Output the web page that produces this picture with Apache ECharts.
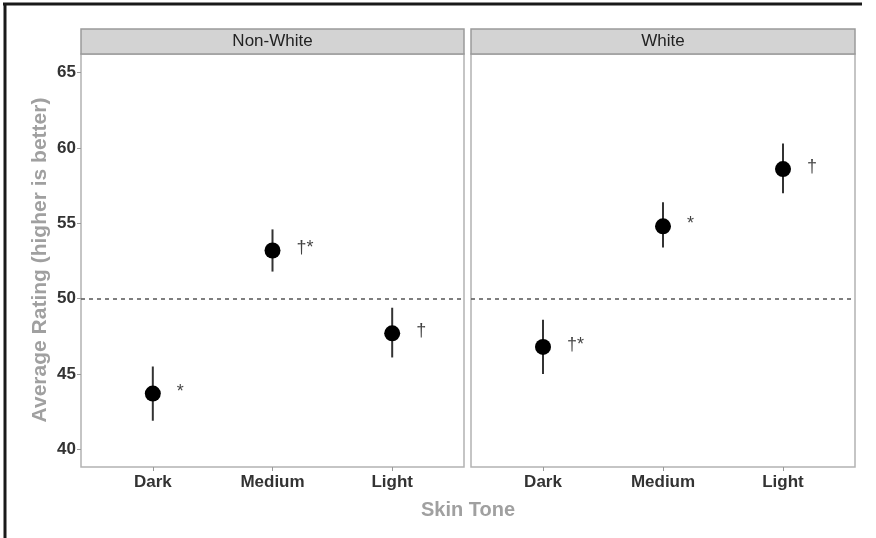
<!DOCTYPE html>
<html>
<head>
<meta charset="utf-8">
<script src="https://cdn.jsdelivr.net/npm/echarts@6/dist/echarts.min.js"></script>
<style>
html, body { margin: 0; padding: 0; background: #fff; }
#container { width: 876px; height: 538px; }
</style>
</head>
<body>
<div id="container"></div>
<script>
var categories = ['Dark', 'Medium', 'Light'];
var panels = ['Non-White', 'White'];
var nonWhiteMean = [43.7, 53.2, 47.7];
var nonWhiteLow = [41.9, 51.8, 46.1];
var nonWhiteHigh = [45.5, 54.6, 49.4];
var whiteMean = [46.8, 54.8, 58.6];
var whiteLow = [45.0, 53.4, 57.0];
var whiteHigh = [48.6, 56.4, 60.3];
var nonWhiteMarks = ['*', '\u2020*', '\u2020'];
var whiteMarks = ['\u2020*', '*', '\u2020'];
var yTicks = [40, 45, 50, 55, 60, 65];
var refLine = 50;

var FONT = '"Liberation Sans", Arial, sans-serif';
var dom = document.getElementById('container');
var myChart = echarts.init(dom, null, { renderer: 'canvas' });

var panelData = [
    { mean: nonWhiteMean, low: nonWhiteLow, high: nonWhiteHigh, marks: nonWhiteMarks },
    { mean: whiteMean, low: whiteLow, high: whiteHigh, marks: whiteMarks }
];

var grids = [
    { left: 81, top: 54, width: 383, height: 413 },
    { left: 471, top: 54, width: 384, height: 413 }
];

var xAxes = [];
var yAxes = [];
var series = [];
var graphics = [];

grids.forEach(function (g, i) {
    g.show = true;
    g.borderColor = '#b3b3b3';
    g.borderWidth = 1.5;
    g.backgroundColor = '#fff';

    xAxes.push({
        type: 'value',
        gridIndex: i,
        min: -0.6,
        max: 2.6,
        splitLine: { show: false },
        axisLine: { show: false, onZero: false },
        axisTick: { show: true, customValues: [0, 1, 2], length: 4, lineStyle: { color: '#999' } },
        axisLabel: {
            customValues: [0, 1, 2],
            margin: 7,
            fontFamily: FONT,
            fontSize: 17,
            fontWeight: 'bold',
            color: '#333',
            formatter: function (v) { return categories[Math.round(v)]; }
        }
    });

    yAxes.push({
        type: 'value',
        gridIndex: i,
        min: 38.83,
        max: 66.24,
        splitLine: { show: false },
        axisLine: { show: false, onZero: false },
        axisTick: { show: i === 0, customValues: yTicks, length: 4, lineStyle: { color: '#999' } },
        axisLabel: {
            show: i === 0,
            customValues: yTicks,
            margin: 5,
            fontFamily: FONT,
            fontSize: 17,
            fontWeight: 'bold',
            color: '#333'
        }
    });

    var d = panelData[i];
    var pts = [], bars = [], notes = [];
    categories.forEach(function (c, k) {
        pts.push([k, d.mean[k]]);
        bars.push([k, d.low[k], d.high[k]]);
        notes.push([k + 0.2, d.mean[k], d.marks[k]]);
    });

    series.push({
        type: 'custom',
        xAxisIndex: i,
        yAxisIndex: i,
        data: bars,
        encode: { x: 0, y: [1, 2] },
        renderItem: function (params, api) {
            var top = api.coord([api.value(0), api.value(2)]);
            var bot = api.coord([api.value(0), api.value(1)]);
            return {
                type: 'line',
                shape: { x1: top[0], y1: top[1], x2: bot[0], y2: bot[1] },
                style: { stroke: '#333', lineWidth: 2 }
            };
        },
        z: 2
    });

    series.push({
        type: 'scatter',
        xAxisIndex: i,
        yAxisIndex: i,
        data: pts,
        symbol: 'circle',
        symbolSize: 16,
        itemStyle: { color: '#000', opacity: 1 },
        markLine: {
            silent: true,
            symbol: 'none',
            label: { show: false },
            lineStyle: { color: '#555', type: [4, 4], width: 1.5 },
            data: [{ yAxis: refLine }]
        },
        z: 3
    });

    series.push({
        type: 'scatter',
        xAxisIndex: i,
        yAxisIndex: i,
        data: notes,
        symbolSize: 0,
        label: {
            show: true,
            position: 'right',
            distance: 0,
            offset: [0, -2],
            fontFamily: FONT,
            fontSize: 18,
            color: '#111',
            formatter: function (p) { return p.value[2]; }
        },
        z: 4
    });

    graphics.push({
        type: 'rect',
        shape: { x: g.left, y: 29, width: g.width, height: 25 },
        style: { fill: '#d3d3d3', stroke: '#9a9a9a', lineWidth: 1.5 },
        z: 10
    });
    graphics.push({
        type: 'text',
        x: g.left + g.width / 2,
        y: 41.5,
        style: {
            text: panels[i],
            fontFamily: FONT,
            fontSize: 17,
            fill: '#222',
            align: 'center',
            verticalAlign: 'middle'
        },
        z: 11
    });
});

// outer frame lines
graphics.push({
    type: 'line',
    shape: { x1: 3, y1: 4, x2: 862, y2: 4 },
    style: { stroke: '#1a1a1a', lineWidth: 3 },
    z: 12
});
graphics.push({
    type: 'line',
    shape: { x1: 5, y1: 3, x2: 5, y2: 538 },
    style: { stroke: '#1a1a1a', lineWidth: 3 },
    z: 12
});
// axis titles
graphics.push({
    type: 'text',
    x: 468,
    y: 510,
    style: {
        text: 'Skin Tone',
        fontFamily: FONT,
        fontSize: 20,
        fontWeight: 'bold',
        fill: '#a0a0a0',
        align: 'center',
        verticalAlign: 'middle'
    },
    z: 11
});
graphics.push({
    type: 'text',
    x: 40,
    y: 260,
    rotation: Math.PI / 2,
    style: {
        text: 'Average Rating (higher is better)',
        fontFamily: FONT,
        fontSize: 21,
        fontWeight: 'bold',
        fill: '#a0a0a0',
        align: 'center',
        verticalAlign: 'middle'
    },
    z: 11
});

myChart.setOption({
    animation: false,
    grid: grids,
    xAxis: xAxes,
    yAxis: yAxes,
    series: series,
    graphic: graphics
});

window.addEventListener('resize', function () {
    myChart.resize();
});
</script>
</body>
</html>
